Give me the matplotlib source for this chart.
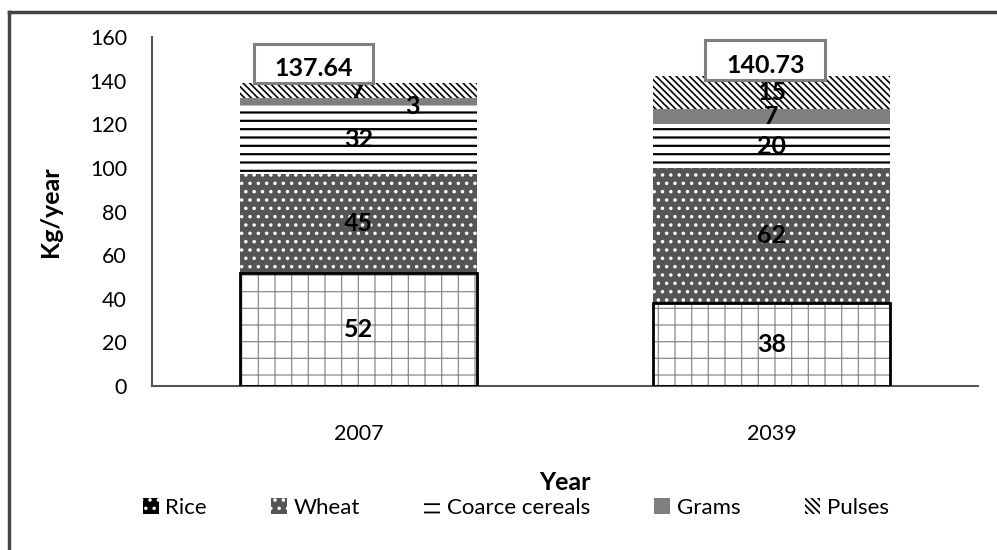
import matplotlib
matplotlib.use("Agg")
import matplotlib.pyplot as plt
from matplotlib.patches import Rectangle, Patch
from matplotlib.lines import Line2D
import numpy as np

plt.rcParams['font.family'] = ['Lato', 'DejaVu Sans']
plt.rcParams['hatch.linewidth'] = 1.3

# ---- data ----
years = ["2007", "2039"]
series = ["Rice", "Wheat", "Coarce cereals", "Grams", "Pulses"]
rice = [52, 38]
wheat = [45, 62]
coarse = [32, 20]
grams = [3, 7]
pulses = [7, 15]
totals = [137.64, 140.73]
total_labels = ["137.64", "140.73"]
yticks = [0, 20, 40, 60, 80, 100, 120, 140, 160]

values = [rice, wheat, coarse, grams, pulses]

# ---- styles ----
faces = ['white', '#555555', 'white', '#7f7f7f', 'white']
hatchcols = ['#8a8a8a', 'white', 'black', '#7f7f7f', 'black']
hatches = ['+', '..', '--', '', '\\\\\\\\\\']
hatch_lw = [0.9, 1.3, 1.6, 1.0, 1.2]

fig = plt.figure(figsize=(9.97, 5.5), dpi=100)
ax = fig.add_axes([152/997, 1-386/550, (978-152)/997, (386-37)/550])

x = np.arange(len(years))
width = 0.576
bottom = np.zeros(len(years))
handles = []
for k, (name, vals, fc, hc, h) in enumerate(zip(series, values, faces, hatchcols, hatches)):
    b = ax.bar(x, vals, width, bottom=bottom, color=fc, edgecolor=hc,
               hatch=h, linewidth=0, label=name, zorder=2)
    for p in b.patches:
        if hasattr(p, 'set_hatch_linewidth'):
            p.set_hatch_linewidth(hatch_lw[k])
    if name == "Rice":
        ax.bar(x, vals, width, bottom=bottom, fill=False, edgecolor='black',
               linewidth=2, zorder=3)
        proxy = Patch(facecolor='black', edgecolor='white', hatch='..', linewidth=0)
        handles.append(proxy)
    else:
        handles.append(b)
    bottom = bottom + np.array(vals)

# segment value labels
label_dx = {("Grams", 0): 0.13}
label_dy = {("Grams", 0): -2.5}
cum = np.zeros(len(years))
for name, vals in zip(series, values):
    for i, v in enumerate(vals):
        dx = label_dx.get((name, i), 0)
        dy = label_dy.get((name, i), 0)
        ax.text(x[i] + dx, cum[i] + v / 2 + dy, str(v), ha='center', va='center',
                fontsize=18, fontweight='bold', color='black', zorder=5)
    cum = cum + np.array(vals)

# total labels in boxes
box_dx = [-0.109, -0.015]
box_dy = [0.0, -1.5]
box_w = 0.29
box_h = 18
for i, (t, lab) in enumerate(zip(totals, total_labels)):
    cx = x[i] + box_dx[i]
    base = cum[i] + box_dy[i]
    ax.add_patch(Rectangle((cx - box_w / 2, base), box_w, box_h, facecolor='white',
                           edgecolor='#7f7f7f', linewidth=2.2, zorder=6))
    ax.text(cx, base + 6.5, lab, ha='center', va='center', fontsize=18,
            fontweight='bold', color='black', zorder=7)

ax.set_xlim(-0.5, 1.5)
ax.set_ylim(0, 160)
ax.set_yticks(yticks)
ax.set_yticklabels([str(t) for t in yticks], fontsize=15.5)
ax.set_xticks(x)
ax.set_xticklabels(years, fontsize=15.5)
ax.tick_params(axis='y', length=0, pad=18)
ax.tick_params(axis='x', length=0, pad=27)
for s in ['top', 'right']:
    ax.spines[s].set_visible(False)
for s in ['left', 'bottom']:
    ax.spines[s].set_color('#555555')
    ax.spines[s].set_linewidth(1.5)
ax.set_ylabel("Kg/year", fontsize=18, fontweight='bold', labelpad=20)
fig.text(565/997, 1-483/550, "Year", ha='center', va='center', fontsize=18,
         fontweight='bold')

leg = fig.legend(handles=handles, labels=series, loc='center',
                 bbox_to_anchor=(516/997, 1-508/550), ncol=5, frameon=False,
                 fontsize=16, handlelength=0.7, handleheight=0.7,
                 handletextpad=0.3, columnspacing=2.9)

# outer frame (left and top edges)
fig.add_artist(Line2D([9/997, 9/997], [0, 1-12/550], transform=fig.transFigure,
                      color='#444444', linewidth=2.5))
fig.add_artist(Line2D([9/997, 1], [1-12/550, 1-12/550], transform=fig.transFigure,
                      color='#444444', linewidth=2.5))

fig.savefig("out.png", dpi=100)
